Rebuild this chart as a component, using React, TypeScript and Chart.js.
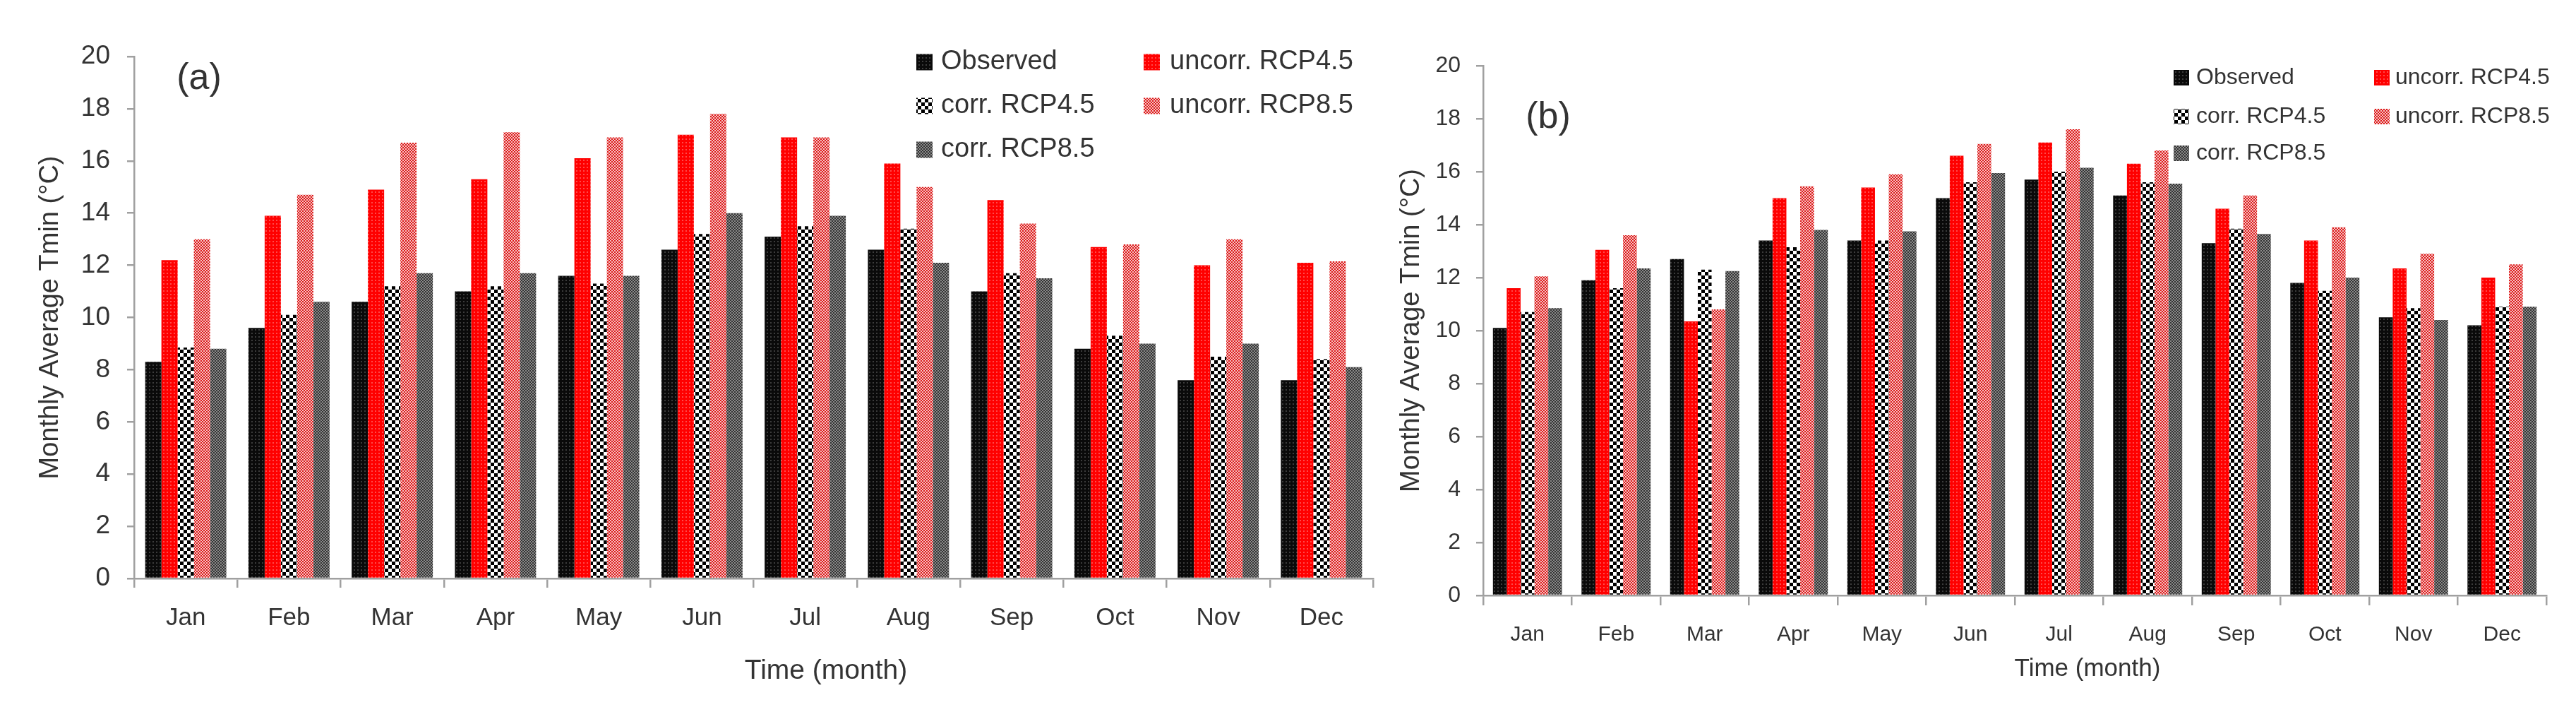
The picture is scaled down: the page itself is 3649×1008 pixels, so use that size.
import React, { useEffect, useRef } from 'react';
import { Chart, registerables } from 'chart.js';

Chart.register(...registerables);

const FONT = '"Liberation Sans", Arial, sans-serif';
const TEXT = '#333333';
const AXIS = '#a0a0a0';

const months = ['Jan', 'Feb', 'Mar', 'Apr', 'May', 'Jun', 'Jul', 'Aug', 'Sep', 'Oct', 'Nov', 'Dec'];
const seriesLabels = ['Observed', 'uncorr. RCP4.5', 'corr. RCP4.5', 'uncorr. RCP8.5', 'corr. RCP8.5'];
const yTitle = 'Monthly Average Tmin (\u00B0C)';
const xTitle = 'Time (month)';
const yMin = 0;
const yMax = 20;
const yStep = 2;

// Panel (a)
const obsA = [8.3, 9.6, 10.6, 11.0, 11.6, 12.6, 13.1, 12.6, 11.0, 8.8, 7.6, 7.6];
const uncorr45A = [12.2, 13.9, 14.9, 15.3, 16.1, 17.0, 16.9, 15.9, 14.5, 12.7, 12.0, 12.1];
const corr45A = [8.85, 10.1, 11.2, 11.2, 11.3, 13.2, 13.5, 13.4, 11.7, 9.3, 8.5, 8.4];
const uncorr85A = [13.0, 14.7, 16.7, 17.1, 16.9, 17.8, 16.9, 15.0, 13.6, 12.8, 13.0, 12.15];
const corr85A = [8.8, 10.6, 11.7, 11.7, 11.6, 14.0, 13.9, 12.1, 11.5, 9.0, 9.0, 8.1];

// Panel (b)
const obsB = [10.1, 11.9, 12.7, 13.4, 13.4, 15.0, 15.7, 15.1, 13.3, 11.8, 10.5, 10.2];
const uncorr45B = [11.6, 13.05, 10.35, 15.0, 15.4, 16.6, 17.1, 16.3, 14.6, 13.4, 12.35, 12.0];
const corr45B = [10.7, 11.6, 12.3, 13.15, 13.4, 15.6, 16.0, 15.6, 13.85, 11.5, 10.85, 10.9];
const uncorr85B = [12.05, 13.6, 10.8, 15.45, 15.9, 17.05, 17.6, 16.8, 15.1, 13.9, 12.9, 12.5];
const corr85B = [10.85, 12.35, 12.25, 13.8, 13.75, 15.95, 16.15, 15.55, 13.65, 12.0, 10.4, 10.9];

function makePattern(kind: string): CanvasPattern | string {
  const c = document.createElement('canvas');
  const size = kind === 'corr45' ? 10 : kind === 'obs' || kind === 'unc45' ? 5 : 4;
  c.width = size;
  c.height = size;
  const ctx = c.getContext('2d');
  if (!ctx) return '#000';
  if (kind === 'obs') {
    ctx.fillStyle = '#0a0a0a';
    ctx.fillRect(0, 0, size, size);
    ctx.fillStyle = '#3c3c3c';
    ctx.fillRect(1, 1, 2, 2);
  } else if (kind === 'unc45') {
    ctx.fillStyle = '#ff0000';
    ctx.fillRect(0, 0, size, size);
    ctx.fillStyle = '#ff4a4a';
    ctx.fillRect(1, 1, 2, 2);
  } else if (kind === 'corr45') {
    ctx.fillStyle = '#ffffff';
    ctx.fillRect(0, 0, size, size);
    ctx.fillStyle = '#000000';
    ctx.fillRect(0, 0, 5, 5);
    ctx.fillRect(5, 5, 5, 5);
  } else if (kind === 'unc85') {
    ctx.fillStyle = '#dd1a1a';
    ctx.fillRect(0, 0, size, size);
    ctx.fillStyle = '#f5c4c4';
    ctx.fillRect(0, 0, 2, 2);
    ctx.fillRect(2, 2, 2, 2);
  } else {
    ctx.fillStyle = '#333333';
    ctx.fillRect(0, 0, size, size);
    ctx.fillStyle = '#8a8a8a';
    ctx.fillRect(0, 0, 2, 2);
    ctx.fillRect(2, 2, 2, 2);
  }
  return ctx.createPattern(c, 'repeat') || '#000';
}

const overlayPlugin = {
  id: 'overlay',
  afterDraw(chart: any, _args: any, opts: any) {
    const ctx = chart.ctx as CanvasRenderingContext2D;
    ctx.save();
    ctx.fillStyle = TEXT;
    ctx.textBaseline = 'middle';
    ctx.textAlign = 'center';
    ctx.font = `${opts.tagSize}px ${FONT}`;
    ctx.fillText(opts.tag, opts.tagX, opts.tagY);
    ctx.font = `${opts.xTitleSize}px ${FONT}`;
    ctx.fillText(opts.xTitle, opts.xTitleX, opts.xTitleY);
    ctx.textAlign = 'left';
    ctx.font = `${opts.legendSize}px ${FONT}`;
    chart.data.datasets.forEach((ds: any, i: number) => {
      const col = i % 2;
      const row = Math.floor(i / 2);
      const y = opts.rowY[row];
      ctx.fillStyle = ds.backgroundColor;
      ctx.fillRect(opts.boxX[col], y - opts.box / 2, opts.box, opts.box);
      ctx.fillStyle = TEXT;
      ctx.fillText(ds.label, opts.textX[col], y);
    });
    ctx.restore();
  },
};

function buildConfig(series: number[][], patterns: (CanvasPattern | string)[], p: any): any {
  return {
    type: 'bar',
    data: {
      labels: months,
      datasets: series.map((vals, i) => ({
        label: seriesLabels[i],
        data: vals,
        backgroundColor: patterns[i],
        borderWidth: 0,
        categoryPercentage: p.catPct,
        barPercentage: 1.0,
      })),
    },
    plugins: [overlayPlugin],
    options: {
      responsive: false,
      animation: false,
      events: [],
      layout: { padding: { top: p.top, right: p.right, bottom: 0, left: 0 } },
      scales: {
        x: {
          offset: true,
          afterFit: (s: any) => { s.height = p.xHeight; },
          grid: {
            display: true,
            offset: true,
            drawOnChartArea: false,
            drawTicks: true,
            tickLength: p.xTickLen,
            color: AXIS,
            lineWidth: 2.5,
          },
          border: { display: true, color: AXIS, width: 2.5 },
          ticks: {
            color: TEXT,
            padding: p.xPad,
            maxRotation: 0,
            autoSkip: false,
            font: { family: FONT, size: p.xLabelSize },
          },
        },
        y: {
          min: yMin,
          max: yMax,
          afterFit: (s: any) => { s.width = p.yWidth; },
          grid: {
            display: true,
            drawOnChartArea: false,
            drawTicks: true,
            tickLength: 10,
            color: AXIS,
            lineWidth: 2.5,
          },
          border: { display: true, color: AXIS, width: 2.5 },
          ticks: {
            stepSize: yStep,
            color: TEXT,
            padding: p.yPad,
            font: { family: FONT, size: p.yLabelSize },
          },
          title: {
            display: true,
            text: yTitle,
            color: TEXT,
            padding: { top: p.yTitlePad, bottom: 0 },
            font: { family: FONT, size: 38 },
          },
        },
      },
      plugins: {
        legend: { display: false },
        tooltip: { enabled: false },
        overlay: {
          tag: p.tag,
          tagX: p.tagX,
          tagY: p.tagY,
          tagSize: 52,
          xTitle: xTitle,
          xTitleX: p.xTitleX,
          xTitleY: p.xTitleY,
          xTitleSize: p.xTitleSize,
          legendSize: p.legendSize,
          box: p.box,
          boxX: p.boxX,
          textX: p.textX,
          rowY: p.rowY,
        },
      },
    },
  };
}

const W_A = 1960;
const W_B = 3649 - 1960;
const H = 1008;

export default function App() {
  const refA = useRef<HTMLCanvasElement>(null);
  const refB = useRef<HTMLCanvasElement>(null);

  useEffect(() => {
    const patterns = ['obs', 'unc45', 'corr45', 'unc85', 'corr85'].map(makePattern);
    const chartA = new Chart(refA.current as HTMLCanvasElement, buildConfig(
      [obsA, uncorr45A, corr45A, uncorr85A, corr85A], patterns,
      {
        catPct: 0.786, top: 80, right: W_A - 1945, xHeight: H - 819, yWidth: 190,
        xTickLen: 13, xPad: 22, yPad: 24, xLabelSize: 35, yLabelSize: 37, yTitlePad: 49,
        tag: '(a)', tagX: 282, tagY: 112, xTitleX: 1170, xTitleY: 950, xTitleSize: 39,
        legendSize: 38, box: 23, boxX: [1298, 1620], textX: [1333, 1657], rowY: [88, 150, 212],
      }
    ));
    const off = 1960;
    const chartB = new Chart(refB.current as HTMLCanvasElement, buildConfig(
      [obsB, uncorr45B, corr45B, uncorr85B, corr85B], patterns,
      {
        catPct: 0.78, top: 93, right: 3649 - 3607, xHeight: H - 843, yWidth: 2101 - off,
        xTickLen: 14, xPad: 24, yPad: 22, xLabelSize: 30, yLabelSize: 32, yTitlePad: 17,
        tag: '(b)', tagX: 2193 - off, tagY: 167, xTitleX: 2957 - off, xTitleY: 947, xTitleSize: 35,
        legendSize: 32, box: 22, boxX: [3079 - off, 3363 - off], textX: [3111 - off, 3393 - off], rowY: [110, 165, 217],
      }
    ));
    return () => {
      chartA.destroy();
      chartB.destroy();
    };
  }, []);

  return (
    <div style={{ position: 'fixed', left: 0, top: 0, width: 3649, height: H, background: '#ffffff' }}>
      <canvas ref={refA} width={W_A} height={H} style={{ position: 'absolute', left: 0, top: 0, width: W_A, height: H }} />
      <canvas ref={refB} width={W_B} height={H} style={{ position: 'absolute', left: 1960, top: 0, width: W_B, height: H }} />
    </div>
  );
}
